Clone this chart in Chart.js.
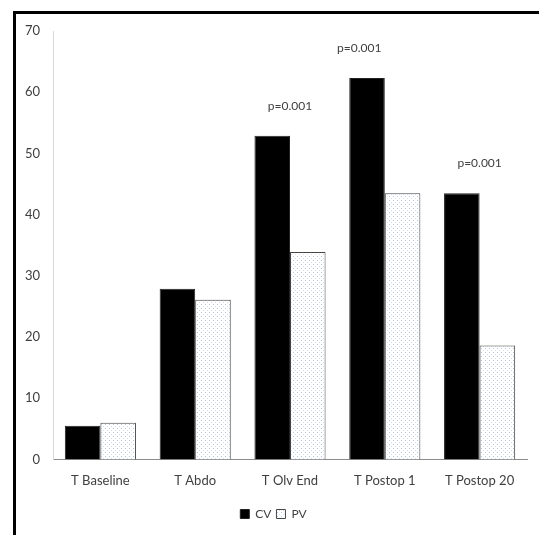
<!DOCTYPE html>
<html>
<head>
<meta charset="utf-8">
<script src="https://cdn.jsdelivr.net/npm/chart.js@4.4.1/dist/chart.umd.min.js"></script>
<style>
  html, body { margin: 0; padding: 0; background: #fff; }
  #wrap { position: absolute; left: 0; top: 0; width: 539px; height: 535px; }
  #frame {
    position: absolute; left: 13px; top: 11px; right: 0; bottom: 0;
    border-left: 3px solid #000; border-top: 3px solid #000;
    pointer-events: none;
  }
</style>
</head>
<body>
<div id="wrap">
  <canvas id="barChart" width="539" height="535"></canvas>
  <div id="frame"></div>
</div>
<script>
const categories = ['T Baseline', 'T Abdo', 'T Olv End', 'T Postop 1', 'T Postop 20'];
const cvValues = [5.5, 27.9, 52.9, 62.3, 43.5];
const pvValues = [6.0, 26.1, 33.9, 43.5, 18.6];
const pLabels = ['', '', 'p=0.001', 'p=0.001', 'p=0.001'];
const pLabelValues = [null, null, 57.7, 67.2, 48.4];
const yTicks = [0, 10, 20, 30, 40, 50, 60, 70];

document.addEventListener("DOMContentLoaded", function () {
    const canvas = document.getElementById('barChart');
    const ctx = canvas.getContext('2d');

    // dotted fill for the PV bars
    const tile = document.createElement('canvas');
    tile.width = 4;
    tile.height = 4;
    const tctx = tile.getContext('2d');
    tctx.fillStyle = '#ffffff';
    tctx.fillRect(0, 0, 4, 4);
    tctx.fillStyle = '#b4c6e4';
    tctx.fillRect(1, 0, 1, 1);
    tctx.fillStyle = '#d3ddef';
    tctx.fillRect(3, 2, 1, 1);
    const dots = ctx.createPattern(tile, 'repeat');

    // small nudges so the p labels sit where they do in the original
    const pOffset = [0, 0, 0, -0.27, 0];

    const myChart = new Chart(ctx, {
        type: 'bar',
        data: {
            labels: categories,
            datasets: [{
                label: 'CV',
                data: cvValues,
                backgroundColor: '#000000',
                borderColor: '#222222',
                borderWidth: 1
            }, {
                label: 'PV',
                data: pvValues,
                backgroundColor: dots,
                borderColor: '#444444',
                borderWidth: 1
            }]
        },
        options: {
            responsive: false,
            animation: false,
            layout: { padding: { left: 20, right: 12, top: 31, bottom: 5 } },
            datasets: {
                bar: { categoryPercentage: 0.75, barPercentage: 1 }
            },
            scales: {
                x: {
                    grid: { display: false, drawTicks: false },
                    border: { display: true, color: '#8c8c8c', width: 1 },
                    ticks: {
                        color: '#404040',
                        padding: 14,
                        font: { family: 'Lato', size: 13 }
                    }
                },
                y: {
                    min: 0,
                    max: 70,
                    afterFit: function (scale) { scale.width = 33; },
                    afterBuildTicks: function (scale) {
                        scale.ticks = yTicks.map(v => ({ value: v }));
                    },
                    grid: { display: false, drawTicks: false },
                    border: { display: true, color: '#d9d9d9', width: 1 },
                    ticks: {
                        color: '#404040',
                        padding: 13,
                        font: { family: 'Lato', size: 13 }
                    }
                }
            },
            plugins: {
                legend: {
                    position: 'bottom',
                    labels: {
                        boxWidth: 9,
                        boxHeight: 9,
                        padding: 5,
                        color: '#404040',
                        font: { family: 'Lato', size: 12 }
                    }
                },
                tooltip: { enabled: false }
            }
        },
        plugins: [{
            id: 'pValues',
            afterDatasetsDraw: function (chart) {
                const c = chart.ctx;
                const xs = chart.scales.x;
                const ys = chart.scales.y;
                c.save();
                c.font = '12px Lato';
                c.fillStyle = '#404040';
                c.textAlign = 'center';
                c.textBaseline = 'middle';
                pLabels.forEach(function (txt, i) {
                    if (!txt) return;
                    c.fillText(txt, xs.getPixelForValue(i + pOffset[i]), ys.getPixelForValue(pLabelValues[i]));
                });
                c.restore();
            }
        }]
    });
});
</script>
</body>
</html>
